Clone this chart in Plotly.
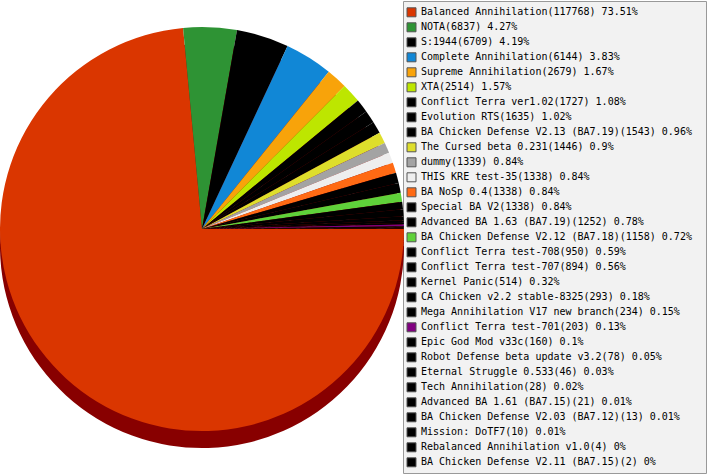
import plotly.graph_objects as go

# mods and how often they were played
mod_names = [
    "Balanced Annihilation", "NOTA", "S:1944", "Complete Annihilation",
    "Supreme Annihilation", "XTA", "Conflict Terra ver1.02", "Evolution RTS",
    "BA Chicken Defense V2.13 (BA7.19)", "The Cursed beta 0.231", "dummy",
    "THIS KRE test-35", "BA NoSp 0.4", "Special BA V2",
    "Advanced BA 1.63 (BA7.19)", "BA Chicken Defense V2.12 (BA7.18)",
    "Conflict Terra test-708", "Conflict Terra test-707", "Kernel Panic",
    "CA Chicken v2.2 stable-8325", "Mega Annihilation V17 new branch",
    "Conflict Terra test-701", "Epic God Mod v33c",
    "Robot Defense beta update v3.2", "Eternal Struggle 0.533",
    "Tech Annihilation", "Advanced BA 1.61 (BA7.15)",
    "BA Chicken Defense V2.03 (BA7.12)", "Mission: DoTF7",
    "Rebalanced Annihilation v1.0", "BA Chicken Defense V2.11 (BA7.15)",
]
game_counts = [
    117768, 6837, 6709, 6144, 2679, 2514, 1727, 1635, 1543, 1446, 1339,
    1338, 1338, 1338, 1252, 1158, 950, 894, 514, 293, 234, 203, 160, 78,
    46, 28, 21, 13, 10, 4, 2,
]
percents = [
    73.51, 4.27, 4.19, 3.83, 1.67, 1.57, 1.08, 1.02, 0.96, 0.9, 0.84,
    0.84, 0.84, 0.84, 0.78, 0.72, 0.59, 0.56, 0.32, 0.18, 0.15, 0.13, 0.1,
    0.05, 0.03, 0.02, 0.01, 0.01, 0.01, 0, 0,
]
slice_colors = [
    "#da3600", "#2e9334", "#000000", "#1187d6", "#f8a30a", "#bde600",
    "#000000", "#000000", "#000000", "#dede2c", "#a3a3a3", "#eeeeee",
    "#ff6a14", "#000000", "#000000", "#5fd13a", "#000000", "#000000",
    "#000000", "#000000", "#000000", "#800080", "#000000", "#000000",
    "#000000", "#000000", "#000000", "#000000", "#000000", "#000000",
    "#000000",
]

W, H = 707, 475
n = len(mod_names)
legend_text = [f"{m}({c}) {p:g}%" for m, c, p in zip(mod_names, game_counts, percents)]

# pie placement (pixels): circle of 404px, left edge at 0, centre at y=229
D = 404
cy = 229
drop = 17  # depth of the "3d" rim
pie_x = [0, D / W]
pie_y = [(H - (cy + D / 2)) / H, (H - (cy - D / 2)) / H]
rim_y = [(H - (cy + D / 2 + drop)) / H, (H - (cy - D / 2 + drop)) / H]

fig = go.Figure()

# dark rim underneath
fig.add_trace(go.Pie(
    values=game_counts, labels=mod_names, sort=False,
    direction="clockwise", rotation=90,
    marker=dict(colors=["#880000"] * n, line=dict(width=0)),
    textinfo="none", hoverinfo="skip", showlegend=False,
    domain=dict(x=pie_x, y=rim_y),
))
fig.add_trace(go.Pie(
    values=game_counts, labels=mod_names, sort=False,
    direction="clockwise", rotation=90,
    marker=dict(colors=slice_colors, line=dict(width=0)),
    textinfo="none", hoverinfo="label+value+percent", showlegend=False,
    domain=dict(x=pie_x, y=pie_y),
))

# hand-made legend box (plotly's own legend is too tall for 31 rows)
rows = list(range(n))
fig.add_trace(go.Scatter(
    x=[411.5] * n, y=rows, mode="markers",
    marker=dict(symbol="square", size=9, color=slice_colors,
                line=dict(width=1, color="#555555")),
    hoverinfo="skip", showlegend=False,
))
fig.add_trace(go.Scatter(
    x=[421] * n, y=rows, mode="text", text=legend_text,
    textposition="middle right",
    textfont=dict(family="DejaVu Sans Mono", size=10, color="#000000"),
    hoverinfo="skip", showlegend=False,
))

row_h = 15
first_row = 12.3
y_top = -first_row / row_h
y_bot = y_top + H / row_h

fig.update_layout(
    width=W, height=H,
    margin=dict(l=0, r=0, t=0, b=0),
    paper_bgcolor="white", plot_bgcolor="rgba(0,0,0,0)",
    xaxis=dict(range=[0, W], visible=False, fixedrange=True),
    yaxis=dict(range=[y_bot, y_top], visible=False, fixedrange=True),
    shapes=[dict(
        type="rect", xref="paper", yref="paper", layer="below",
        x0=403.5 / W, x1=706.5 / W, y0=(H - 473.5) / H, y1=(H - 1.5) / H,
        fillcolor="#f2f2f2", line=dict(color="#999999", width=1),
    )],
)

# drop the browser's default 8px body margin so the figure sits at (0, 0)
fig.write_html("out.html", config={"displayModeBar": False},
               post_script="document.body.style.margin='0';")
